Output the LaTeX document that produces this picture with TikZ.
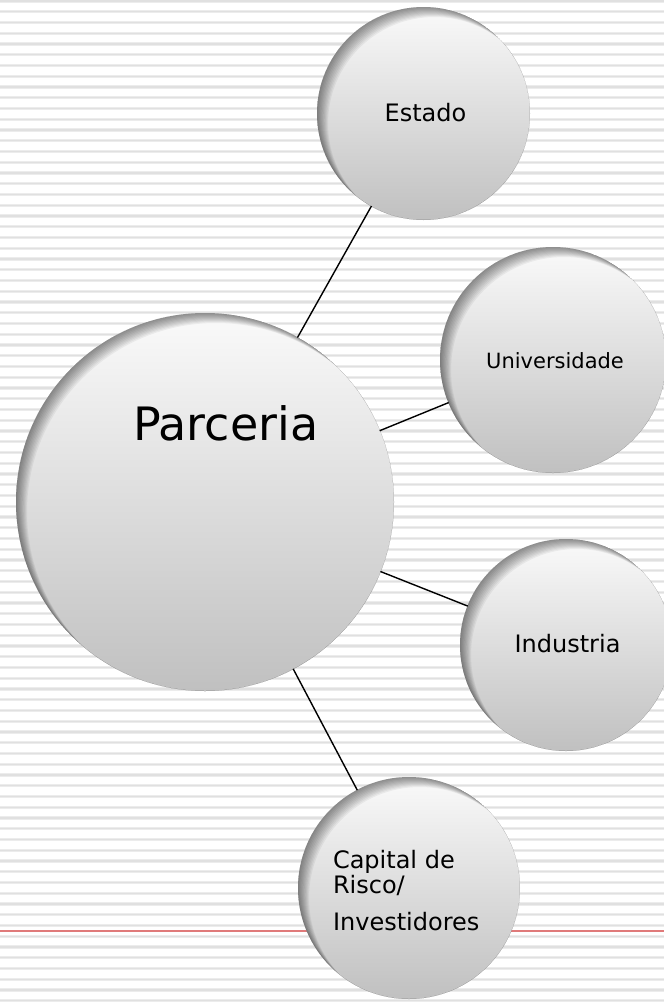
\documentclass[tikz,border=0pt]{standalone}
\usepackage{fontspec}
\setmainfont{DejaVu Sans}
\definecolor{stripecol}{RGB}{236,236,236}
\definecolor{stripedark}{RGB}{224,224,224}
\definecolor{redline}{RGB}{224,122,122}
\definecolor{balltop}{RGB}{250,250,250}
\definecolor{ballmid}{RGB}{230,230,230}
\definecolor{ballbot}{RGB}{192,192,192}
\begin{document}
\begin{tikzpicture}[x=1pt,y=-1pt,
  stripe/.style={stripecol, line width=3.4pt},
  stripecore/.style={stripedark, line width=1.2pt},
  link/.style={black, line width=1.4pt, shorten >=-0.3pt, shorten <=-0.3pt},
  ball/.style={circle, minimum size=2*#1 pt, inner sep=0pt, outer sep=0pt,
    top color=balltop, middle color=ballmid, bottom color=ballbot,
    path picture={
      \foreach \k in {1,...,10}{
        \fill[black, opacity=0.05, even odd rule]
          (path picture bounding box.center) circle (#1 pt)
          ([shift={(\k*1.1pt,-\k*1.0pt)}]path picture bounding box.center) circle (#1 pt);
      }
    }},
  txt/.style={inner sep=0pt, outer sep=0pt, text=black}
]
\useasboundingbox (0,0) rectangle (664,1002);
\clip (0,0) rectangle (664,1002);
\fill[white] (0,0) rectangle (664,1002);
% background stripes
\foreach \i in {0,...,93}{
  \draw[stripe] (0,{1+10.75*\i}) -- (664,{1+10.75*\i});
  \draw[stripecore] (0,{1+10.75*\i}) -- (664,{1+10.75*\i});
}
\draw[redline, line width=2pt] (0,931) -- (664,931);
% circles
\node[ball=189] (par) at (205,502) {};
\node[ball=106.5] (est) at (423.5,113.5) {};
\node[ball=113] (uni) at (553,360) {};
\node[ball=106] (ind) at (566,645) {};
\node[ball=111] (cap) at (409,888) {};
% texts
\node[txt, anchor=base west, font=\fontsize{46}{50}\selectfont] (partxt) at (133,440) {Parceria};
\node[txt, font=\fontsize{24}{28}\selectfont] (esttxt) at (425.5,113) {Estado};
\node[txt, font=\fontsize{21}{25}\selectfont] (unitxt) at (555,360.5) {Universidade};
\node[txt, font=\fontsize{24}{28}\selectfont] (indtxt) at (567.5,644) {Industria};
\node[txt, anchor=base west, align=left, font=\fontsize{24}{25}\selectfont] (captxt) at (333,930) {Capital de\\Risco/\\[12pt]Investidores};
% connectors
\draw[link] (par) -- (est);
\draw[link] (par) -- (uni);
\draw[link] (par) -- (ind);
\draw[link] (par) -- (cap);
\end{tikzpicture}
\end{document}
